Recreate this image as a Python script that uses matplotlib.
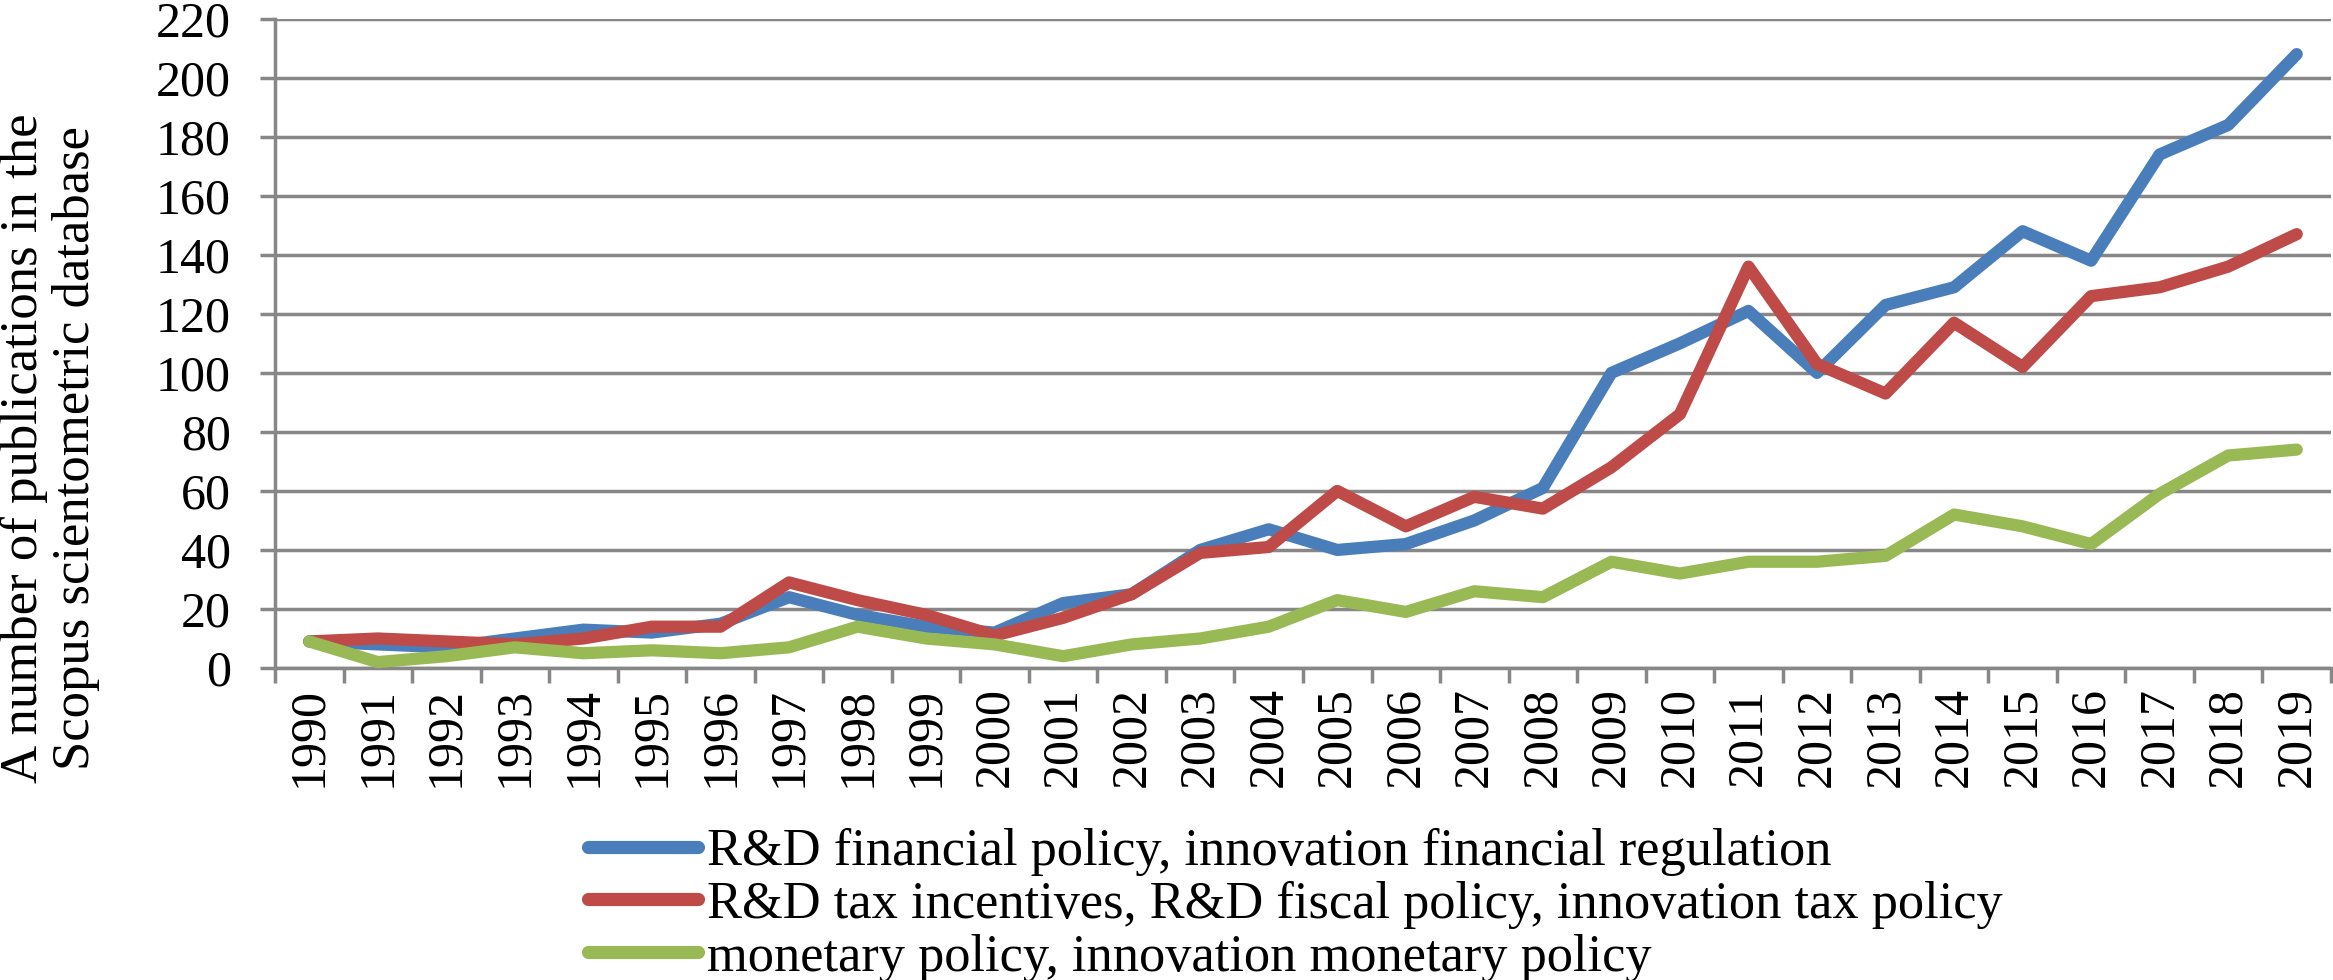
import matplotlib
matplotlib.use("Agg")
import matplotlib.pyplot as plt
from matplotlib.ticker import FixedLocator, NullFormatter

plt.rcParams['font.family'] = ['Liberation Serif', 'DejaVu Serif']

years = [str(y) for y in range(1990, 2020)]
financial = [9, 8, 7, 10, 13, 12, 15, 24, 18, 14, 12, 22, 25, 40, 47, 40, 42, 50, 61,
             100, 110, 121, 100, 123, 129, 148, 138, 174, 184, 208]
tax = [9, 10, 9, 8, 10, 14, 14, 29, 23, 18, 11, 17, 25, 39, 41, 60, 48, 58, 54,
       68, 86, 136, 103, 93, 117, 102, 126, 129, 136, 147]
monetary = [9, 2, 4, 7, 5, 6, 5, 7, 14, 10, 8, 4, 8, 10, 14, 23, 19, 26, 24,
            36, 32, 36, 36, 38, 52, 48, 42, 59, 72, 74]
labels = ["R&D financial policy, innovation financial regulation",
          "R&D tax incentives, R&D fiscal policy, innovation tax policy",
          "monetary policy, innovation monetary policy"]
ylabel = "A number of publications in the\nScopus scientometric database"
yticks = list(range(0, 221, 20))

colors = ['#4A7EBB', '#BE4B48', '#98B954']
gray = '#878787'

W, H = 2333, 980
fig = plt.figure(figsize=(W / 100, H / 100), dpi=100)
ax = fig.add_axes([275 / W, 1 - 668 / H, (2331 - 275) / W, (668 - 18.7) / H])

x = list(range(len(years)))
for series, c, lab in zip([financial, tax, monetary], colors, labels):
    ax.plot(x, series, color=c, lw=8.8, label=lab, solid_capstyle='round',
            solid_joinstyle='round', clip_on=False, zorder=3)

ax.set_xlim(-0.5, len(years) - 0.5)
ax.set_ylim(0, 220)
ax.set_yticks(yticks)
ax.set_yticklabels([str(v) for v in yticks])
ax.set_xticks(x)
ax.set_xticklabels(years, rotation=90)
ax.xaxis.set_minor_locator(FixedLocator([i - 0.5 for i in range(len(years) + 1)]))
ax.xaxis.set_minor_formatter(NullFormatter())

ax.tick_params(axis='x', which='major', length=0, pad=14, labelsize=36)
ax.tick_params(axis='x', which='minor', length=10.8, width=2.5, color=gray, direction='out')
ax.tick_params(axis='y', which='major', length=10.8, width=2.5, color=gray, direction='out',
               pad=21, labelsize=36)

ax.grid(axis='y', color=gray, lw=2.5, zorder=0)
ax.set_axisbelow(True)
for s in ['top', 'right']:
    ax.spines[s].set_visible(False)
for s in ['left', 'bottom']:
    ax.spines[s].set_color(gray)
    ax.spines[s].set_linewidth(2.5)

fig.text(50 / W, 1 - 448 / H, ylabel, rotation=90, ha='center', va='center',
         multialignment='center', fontsize=38, linespacing=1.1)

leg = fig.legend(loc='upper left', bbox_to_anchor=(588 / W, 1 - 828 / H),
                 frameon=False, fontsize=37.7, handlelength=2.1, handletextpad=0.17,
                 labelspacing=0.09, borderpad=0, borderaxespad=0)
for line in leg.get_lines():
    line.set_linewidth(9.5)
    line.set_solid_capstyle('round')

fig.savefig('out.png', dpi=100)
